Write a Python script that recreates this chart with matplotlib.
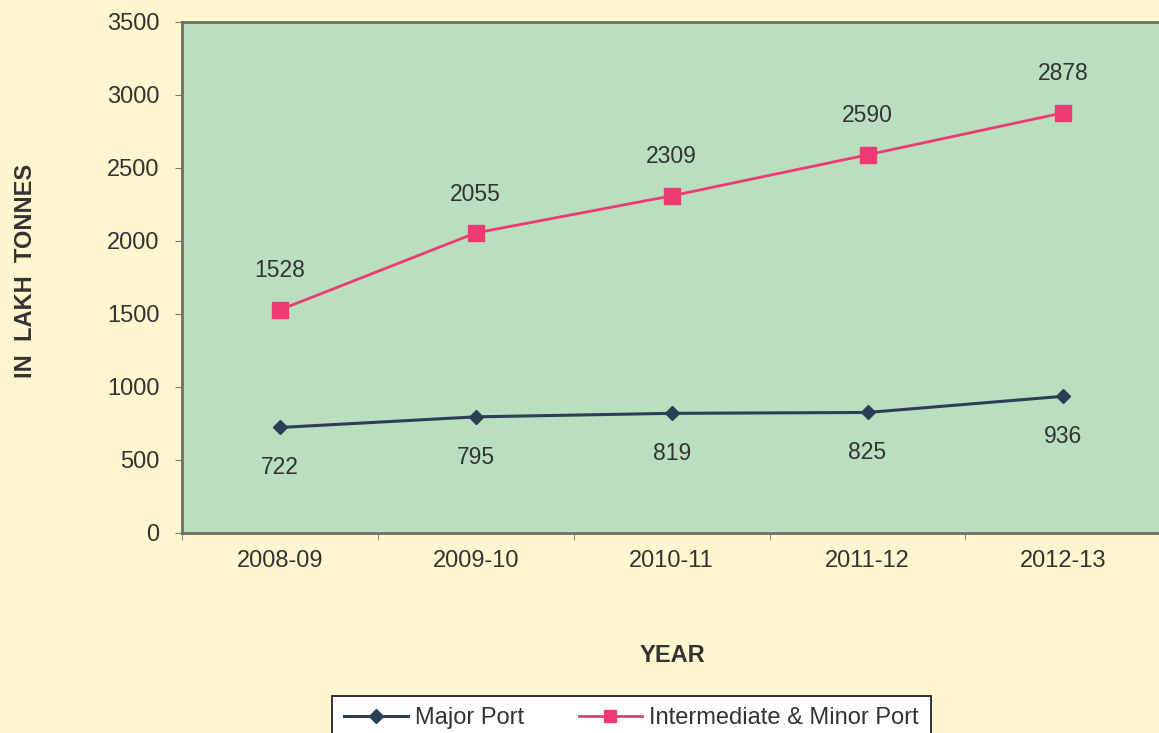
import matplotlib
matplotlib.use("Agg")
import matplotlib.pyplot as plt
import numpy as np

years = ["2008-09", "2009-10", "2010-11", "2011-12", "2012-13"]
major_port = [722, 795, 819, 825, 936]
minor_port = [1528, 2055, 2309, 2590, 2878]

plt.rcParams['font.family'] = ['Liberation Sans', 'DejaVu Sans']
txt = "#333333"
fs = 17

fig = plt.figure(figsize=(11.59, 7.33), dpi=100, facecolor="#FEF6CF")
ax = fig.add_axes([0.157, 0.273, 0.845, 0.697])
ax.set_facecolor("#B9DFC0")

x = np.arange(len(years))
ax.plot(x, major_port, color="#2C3E55", lw=2.2, marker="D", ms=7, label="Major Port")
ax.plot(x, minor_port, color="#EE3A72", lw=2.0, marker="s", ms=11, label="Intermediate & Minor Port")

for xi, v in zip(x, major_port):
    ax.annotate(str(v), (xi, v), xytext=(0, -29), textcoords="offset points",
                ha="center", va="center", fontsize=fs - 0.5, color=txt)
for xi, v in zip(x, minor_port):
    ax.annotate(str(v), (xi, v), xytext=(0, 28), textcoords="offset points",
                ha="center", va="center", fontsize=fs - 0.5, color=txt)

ax.set_xlim(-0.5, 4.5)
ax.set_ylim(0, 3500)
ax.set_yticks(range(0, 3501, 500))
ax.set_xticks(x)
ax.set_xticklabels(years)
ax.set_xticks(np.arange(-0.5, 4.6, 1), minor=True)
ax.tick_params(axis="x", which="major", length=0, pad=12, labelsize=fs, labelcolor=txt)
ax.tick_params(axis="x", which="minor", length=5, direction="out", color="#777777")
ax.tick_params(axis="y", length=5, direction="out", color="#777777", labelsize=fs,
               labelcolor=txt, pad=11)

for s in ["left", "bottom", "top"]:
    ax.spines[s].set_color("#6E6E66")
    ax.spines[s].set_linewidth(2)
ax.spines["right"].set_visible(False)

fig.text(0.022, 0.63, "IN  LAKH  TONNES", rotation=90, ha="center", va="center",
         fontsize=fs, fontweight="bold", color=txt)
fig.text(0.58, 0.106, "YEAR", ha="center", va="center", fontsize=fs,
         fontweight="bold", color=txt)

leg = fig.legend(loc="center", bbox_to_anchor=(0.545, 0.02), ncol=2, fontsize=fs,
                 frameon=True, fancybox=False, edgecolor="#222222", framealpha=1,
                 handlelength=2.7, columnspacing=2.3, borderpad=0.5, handletextpad=0.3)
leg.get_frame().set_linewidth(1.3)
for t in leg.get_texts():
    t.set_color(txt)
for h in leg.legend_handles:
    h.set_markersize(7 if h.get_marker() == "D" else 9)

fig.savefig("out.png", dpi=100, facecolor=fig.get_facecolor())
